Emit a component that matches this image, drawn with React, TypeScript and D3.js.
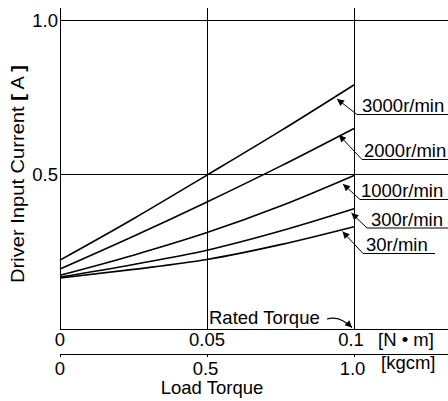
import React from "react";
import * as d3 from "d3";

const torque = [0, 0.025, 0.05, 0.075, 0.1];
const speeds = ["3000r/min", "2000r/min", "1000r/min", "300r/min", "30r/min"];
const s3000 = [0.223, 0.357, 0.498, 0.641, 0.79];
const s2000 = [0.194, 0.3, 0.411, 0.527, 0.649];
const s1000 = [0.174, 0.239, 0.312, 0.398, 0.497];
const s300 = [0.168, 0.209, 0.255, 0.317, 0.389];
const s30 = [0.165, 0.193, 0.225, 0.273, 0.331];
const series = [s3000, s2000, s1000, s300, s30];

const yTicks = [0.5, 1.0];
const yTickLabels = ["0.5", "1.0"];
const xTicksNm = [0, 0.05, 0.1];
const xTickLabelsNm = ["0", "0.05", "0.1"];
const xTickLabelsKg = ["0", "0.5", "1.0"];

// annotation layout (pixel): label start, baseline, bend x, underline end, arrow tip
const annot = [
  { tx: 362, by: 112, bend: 357, end: 448, tip: [337, 99] },
  { tx: 364, by: 157, bend: 362, end: 448, tip: [339, 135] },
  { tx: 361, by: 197, bend: 360, end: 448, tip: [343, 184] },
  { tx: 371, by: 225.5, bend: 367, end: 448, tip: [351.5, 213] },
  { tx: 366, by: 251, bend: 363, end: 435, tip: [342.5, 231.5] },
];

const W = 448;
const H = 401;
const FONT = "'Liberation Sans', Arial, sans-serif";
const FS = 18.5;

export default function App() {
  const x = d3.scaleLinear().domain([0, 0.1]).range([60, 354]);
  const y = d3.scaleLinear().domain([0, 1]).range([329, 20]);
  const line = d3
    .line<number>()
    .x((_, i) => x(torque[i]))
    .y((d) => y(d))
    .curve(d3.curveMonotoneX);

  const top = 8;
  const axisY = y(0);
  const axis2Y = 354;

  return (
    <svg
      width={W}
      height={H}
      style={{ position: "absolute", left: 0, top: 0, background: "#fff" }}
      fontFamily={FONT}
      fontSize={FS}
    >
      <defs>
        <marker
          id="arr"
          viewBox="0 0 10 10"
          refX="10"
          refY="5"
          markerWidth="9"
          markerHeight="7"
          markerUnits="userSpaceOnUse"
          orient="auto-start-reverse"
        >
          <path d="M0,0 L10,5 L0,10 z" fill="#000" />
        </marker>
      </defs>
      <rect x={0} y={0} width={W} height={H} fill="#fff" />

      {/* grid & axes */}
      <g stroke="#000" strokeWidth={1} shapeRendering="crispEdges">
        <line x1={x(0)} x2={x(0)} y1={top} y2={axisY} />
        {xTicksNm.slice(1).map((t) => (
          <line key={t} x1={x(t)} x2={x(t)} y1={top} y2={axisY} />
        ))}
        {yTicks.map((t) => (
          <line key={t} x1={x(0)} x2={W} y1={y(t)} y2={y(t)} />
        ))}
        <line x1={x(0)} x2={W} y1={axisY} y2={axisY} />
        <line x1={x(0)} x2={W} y1={axis2Y} y2={axis2Y} />
        {xTicksNm.map((t) => (
          <line key={"k" + t} x1={x(t)} x2={x(t)} y1={axis2Y} y2={axis2Y + 3} />
        ))}
      </g>

      {/* y tick labels */}
      {yTicks.map((t, i) => (
        <text key={t} x={58} y={y(t) + 6.5} textAnchor="end">
          {yTickLabels[i]}
        </text>
      ))}

      {/* x tick labels N·m */}
      {xTicksNm.map((t, i) => (
        <text key={t} x={x(t) - (i === 2 ? 3 : 0)} y={346} textAnchor="middle">
          {xTickLabelsNm[i]}
        </text>
      ))}
      <text x={378} y={346}>[N • m]</text>

      {/* x tick labels kgcm */}
      {xTicksNm.map((t, i) => (
        <text key={"kg" + t} x={x(t) - (i > 0 ? 1.5 : 0)} y={374.5} textAnchor="middle">
          {xTickLabelsKg[i]}
        </text>
      ))}
      <text x={381} y={368.5}>[kgcm]</text>

      <text x={212} y={394} textAnchor="middle">Load Torque</text>

      {/* y axis label */}
      <text
        transform="translate(23.5,174) rotate(-90)"
        textAnchor="middle"
        textLength={218}
        lengthAdjust="spacingAndGlyphs"
      >
        Driver Input Current <tspan fontWeight="bold">[</tspan> A <tspan fontWeight="bold">]</tspan>
      </text>

      {/* curves */}
      {series.map((s, i) => (
        <path key={speeds[i]} d={line(s) || ""} fill="none" stroke="#000" strokeWidth={1.6} />
      ))}

      {/* annotations */}
      {annot.map((a, i) => (
        <g key={speeds[i]}>
          <path
            d={`M${a.end},${a.by + 2.5} L${a.bend},${a.by + 2.5} L${a.tip[0]},${a.tip[1]}`}
            fill="none"
            stroke="#000"
            strokeWidth={1}
            markerEnd="url(#arr)"
          />
          <text x={a.tx} y={a.by}>{speeds[i]}</text>
        </g>
      ))}

      {/* rated torque */}
      <text x={209} y={324}>Rated Torque</text>
      <path
        d="M327,319 Q339,315 352,327.5"
        fill="none"
        stroke="#000"
        strokeWidth={1.2}
        markerEnd="url(#arr)"
      />
    </svg>
  );
}
